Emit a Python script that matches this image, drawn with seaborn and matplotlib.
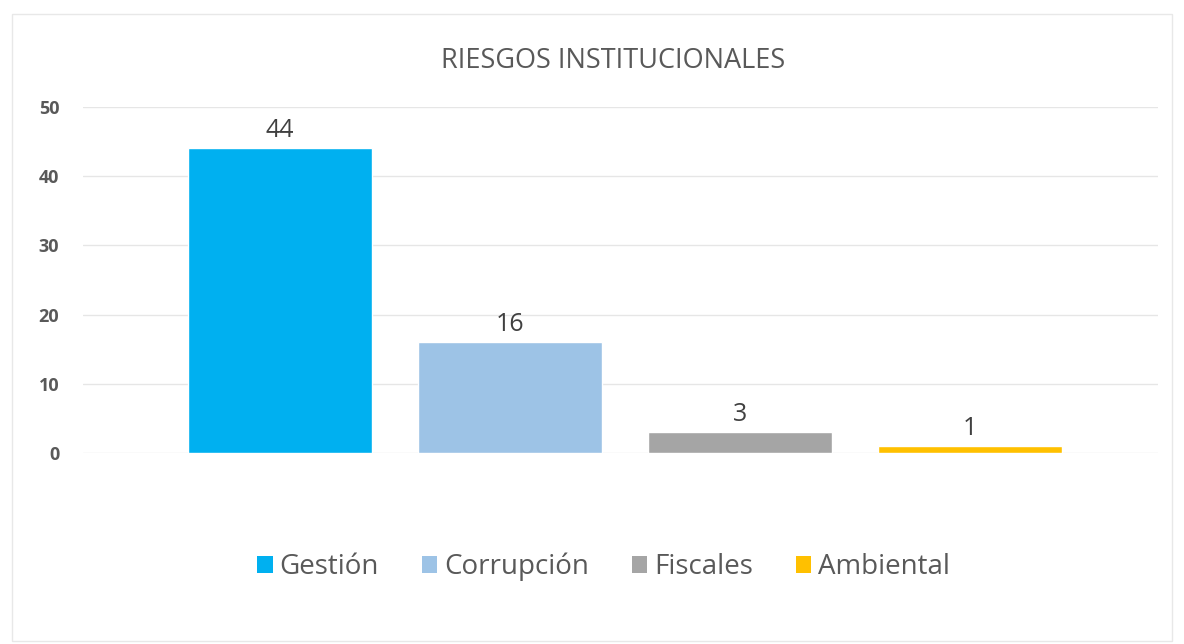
import matplotlib
matplotlib.use("Agg")
import matplotlib.pyplot as plt
import seaborn as sns
import pandas as pd
from matplotlib.patches import Rectangle, Patch

# datos
categorias = ['Gestión', 'Corrupción', 'Fiscales', 'Ambiental']
valores = [44, 16, 3, 1]
colores = ['#00B0F0', '#9DC3E6', '#A5A5A5', '#FFC000']
titulo = 'RIESGOS INSTITUCIONALES'
yticks = [0, 10, 20, 30, 40, 50]

df = pd.DataFrame({'categoria': categorias, 'valor': valores})

sns.set_style('white')
plt.rcParams['font.family'] = ['Open Sans', 'DejaVu Sans']

fig = plt.figure(figsize=(11.84, 6.44), dpi=100)
ax = fig.add_axes([0.070, 0.2966, 0.908, 0.5373])

sns.barplot(data=df, x='categoria', y='valor', hue='categoria',
            palette=colores, width=0.804, legend=False, ax=ax, saturation=1)

ax.set_xlim(-0.857, 3.817)
ax.set_ylim(0, 50)
ax.set_yticks(yticks)
ax.set_yticklabels([str(t) for t in yticks], fontsize=13, color='#595959', fontweight='bold')
ax.tick_params(axis='y', length=0, pad=17)
ax.set_xticks([])
ax.set_xlabel('')
ax.set_ylabel('')
ax.grid(axis='y', color='#E6E6E6', linewidth=1)
ax.set_axisbelow(True)
for s in ax.spines.values():
    s.set_visible(False)

# etiquetas de valor
for i, v in enumerate(valores):
    ax.text(i, v + 0.8, str(v), ha='center', va='bottom', fontsize=18, color='#404040')

fig.text(0.518, 0.905, titulo, ha='center', va='center', fontsize=19.5, color='#595959')

handles = [Patch(facecolor=c, edgecolor='none', label=l) for c, l in zip(colores, categorias)]
fig.legend(handles=handles, loc='center', bbox_to_anchor=(0.51, 0.12), ncol=4,
           frameon=False, fontsize=20, handlelength=0.55, handleheight=0.55,
           handletextpad=0.25, columnspacing=1.55, labelcolor='#595959')

# borde del gráfico
fig.patches.append(Rectangle((0.010, 0.005), 0.980, 0.974, transform=fig.transFigure,
                             fill=False, edgecolor='#E8E8E8', linewidth=1))

fig.savefig('out.png', dpi=100)
